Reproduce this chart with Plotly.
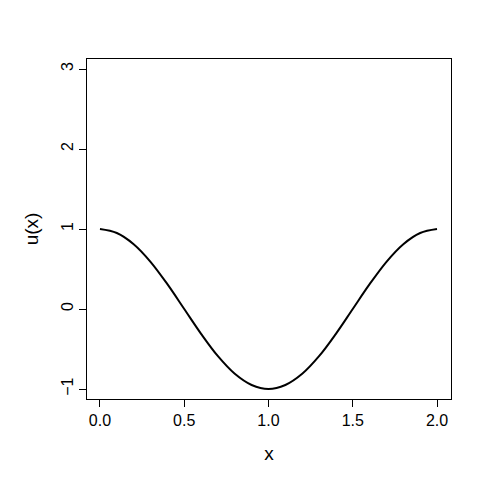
import plotly.graph_objects as go

# values
x_vals = [0.0, 0.1, 0.2, 0.3, 0.4, 0.5, 0.6, 0.7, 0.8, 0.9, 1.0,
          1.1, 1.2, 1.3, 1.4, 1.5, 1.6, 1.7, 1.8, 1.9, 2.0]
u_vals = [1.0, 0.95, 0.81, 0.59, 0.31, 0.0, -0.31, -0.59, -0.81, -0.95, -1.0,
          -0.95, -0.81, -0.59, -0.31, 0.0, 0.31, 0.59, 0.81, 0.95, 1.0]
x_ticks = [0.0, 0.5, 1.0, 1.5, 2.0]
x_tick_labels = ["0.0", "0.5", "1.0", "1.5", "2.0"]
y_ticks = [-1, 0, 1, 2, 3]

fig = go.Figure()
fig.add_trace(go.Scatter(x=x_vals, y=u_vals, mode="lines",
                         line=dict(color="black", width=2, shape="spline")))

axis_common = dict(showline=True, mirror=True, linecolor="black", linewidth=1,
                   ticks="outside", ticklen=7, tickcolor="black", showgrid=False,
                   zeroline=False, automargin=False,
                   tickfont=dict(family="Arial", size=16, color="black"))
fig.update_layout(
    width=480, height=480, showlegend=False,
    plot_bgcolor="white", paper_bgcolor="white",
    margin=dict(l=79, r=37, t=51, b=89),
    font=dict(family="Arial", color="black"),
    xaxis=dict(range=[-0.077, 2.083], tickvals=x_ticks, ticktext=x_tick_labels,
               title=dict(text="x", font=dict(size=19), standoff=18), **axis_common),
    yaxis=dict(range=[-1.125, 3.125], tickvals=y_ticks, tickangle=-90,
               title=dict(text="u(x)", font=dict(size=19), standoff=14), **axis_common),
)
fig.write_html("out.html")
